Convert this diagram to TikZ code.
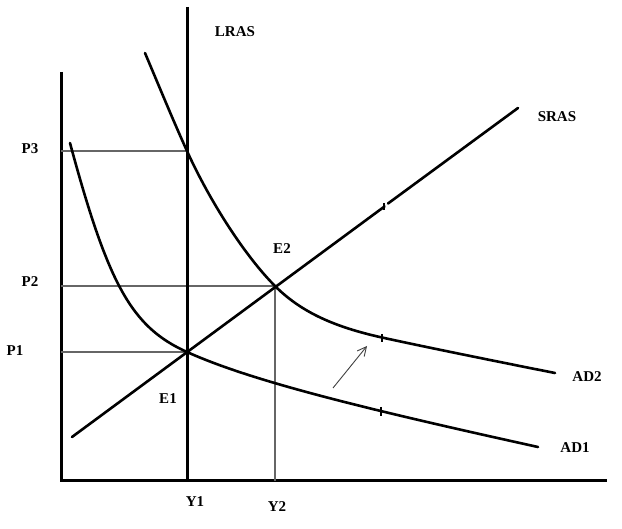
\documentclass[tikz,border=0pt]{standalone}
\usepackage{fontspec}
\setmainfont{Liberation Serif}
\usetikzlibrary{arrows.meta}
\begin{document}
\begin{tikzpicture}[x=1pt,y=-1pt,
  curve/.style={line width=2.6pt, line cap=round},
  axis/.style={line width=3pt},
  guide/.style={line width=1.1pt, draw=black!60},
  lbl/.style={font=\fontsize{15}{17}\selectfont\bfseries, inner sep=0pt},
  tickmark/.style={line width=2.2pt},
  shiftarrow/.style={line width=0.9pt, draw=black!75, -{Straight Barb[length=9pt,width=9pt]}}]
\useasboundingbox (0,0) rectangle (622,529);
\fill[white] (0,0) rectangle (622,529);
% axes
\coordinate (O) at (61,481);
\coordinate (Ytop) at (61,72);
\coordinate (Xend) at (607,481);
\draw[axis] (Ytop) -- (O) -- (Xend);
% key points
\coordinate (E1) at (187,352);
\coordinate (E2) at (275,286);
\coordinate (P3pt) at (187,151);
\coordinate (Y1pt) at (187,481);
\coordinate (Y2pt) at (275,481);
\coordinate (P1ax) at (61,352);
\coordinate (P2ax) at (61,286);
\coordinate (P3ax) at (61,151);
% guides
\draw[guide] (P3ax) -- (P3pt);
\draw[guide] (P2ax) -- (E2);
\draw[guide] (P1ax) -- (E1);
\draw[guide] (E2) -- (Y2pt);
% LRAS
\coordinate (LRAStop) at (187,7);
\draw[axis] (LRAStop) -- (Y1pt);
% SRAS
\coordinate (S1) at (72,437);
\coordinate (Sgap1) at (384.5,206.5);
\coordinate (Sgap2) at (388,203.5);
\coordinate (S2) at (518,108);
\draw[curve] (S1) -- (Sgap1);
\draw[curve] (Sgap2) -- (S2);
% AD1
\coordinate (AD1a) at (70,143);
\coordinate (AD1b) at (538,447);
\draw[curve] (AD1a) .. controls (108.4,285.4) and (131.8,327.2) .. (E1)
  .. controls (249.2,380) and (354.5,406.6) .. (AD1b);
% AD2
\coordinate (AD2a) at (145,53);
\coordinate (AD2m) at (382,337.5);
\coordinate (AD2b) at (555,373);
\draw[curve] (AD2a) .. controls (159,86) and (173,120.2) .. (P3pt)
  .. controls (210.5,202.7) and (245.7,256.7) .. (E2)
  .. controls (300.1,311.1) and (332.2,326.5) .. (AD2m)
  .. controls (425,347) and (512,364.5) .. (AD2b);
% tick marks
\draw[tickmark] (382,334) -- (382,342);
\draw[tickmark] (381,407) -- (381,416);
\draw[tickmark] (384,203) -- (384,210);
% shift arrow
\coordinate (Atail) at (333,388);
\coordinate (Ahead) at (367,346);
\draw[shiftarrow] (Atail) -- (Ahead);
% labels
\node[lbl] (lLRAS) at (235,32) {LRAS};
\node[lbl] (lSRAS) at (557,117) {SRAS};
\node[lbl] (lAD2) at (587,377) {AD2};
\node[lbl] (lAD1) at (575,448) {AD1};
\node[lbl] (lE2) at (282,249) {E2};
\node[lbl] (lE1) at (168,399) {E1};
\node[lbl] (lP3) at (30,149) {P3};
\node[lbl] (lP2) at (30,282) {P2};
\node[lbl] (lP1) at (15,351) {P1};
\node[lbl] (lY1) at (195,502) {Y1};
\node[lbl] (lY2) at (277,507) {Y2};
\end{tikzpicture}
\end{document}
